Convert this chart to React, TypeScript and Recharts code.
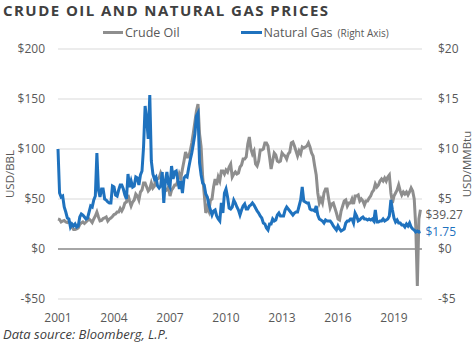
import React from "react";
import { LineChart, Line, XAxis, YAxis, CartesianGrid, ReferenceLine, LabelList } from "recharts";

document.body.style.margin = "0";

const START_YEAR = 2001;
const yearTicks = [2001, 2004, 2007, 2010, 2013, 2016, 2019];
const oilTicks = [-50, 0, 50, 100, 150, 200];
const gasTicks = [-5, 0, 5, 10, 15, 20];

// monthly WTI crude, USD/bbl
const crudeOil = [
  30, 29.5, 27, 28, 28.5, 27, 26.5, 27.5, 26, 22, 19.5, 19.5,
  20, 21, 24.5, 26, 27, 25.5, 27, 28.5, 30, 28.5, 26.5, 30,
  33, 37, 32, 28, 28.5, 30.5, 31, 32, 28, 30, 31, 32.5,
  34.5, 35, 37, 37, 40.5, 38, 41, 46, 47, 54, 48, 43,
  47, 49, 55, 53, 49, 57, 59, 66, 66, 62, 58, 60,
  66, 61, 63, 71, 70, 71, 76, 72, 63, 58, 59, 62,
  53, 59, 61, 64, 64, 68, 75, 71, 80, 88, 97, 92,
  92, 98, 106, 116, 127, 138, 145, 115, 102, 72, 55, 36,
  42, 38, 49, 50, 62, 70, 64, 72, 68, 78, 78, 75,
  79, 77, 82, 85, 72, 75, 77, 75, 76, 82, 84, 90,
  90, 92, 105, 112, 100, 95, 98, 85, 83, 88, 99, 99,
  100, 106, 106, 103, 92, 80, 88, 96, 94, 88, 87, 88,
  96, 94, 93, 90, 95, 97, 106, 107, 103, 98, 93, 98,
  95, 102, 101, 102, 103, 106, 102, 96, 93, 83, 74, 56,
  46, 50, 46, 56, 60, 60, 50, 41, 45, 46, 41, 36,
  30, 29, 38, 43, 48, 49, 43, 46, 46, 50, 45, 53,
  53, 54, 48, 50, 48, 44, 48, 48, 51, 53, 57, 59,
  65, 62, 64, 68, 70, 68, 71, 68, 72, 74, 56, 46,
  53, 56, 59, 64, 58, 54, 57, 55, 57, 54, 57, 61,
  58, 50, 22, -37, 30, 39.27,
];

// monthly Henry Hub natural gas, USD/MMBtu
const naturalGas = [
  10, 5.6, 5.2, 5.3, 4.2, 3.7, 3.1, 3.0, 2.2, 2.5, 2.3, 2.5,
  2.2, 2.3, 3.2, 3.5, 3.4, 3.2, 3.0, 3.1, 3.7, 4.3, 4.2, 4.9,
  5.3, 9.6, 5.9, 5.2, 6.0, 6.0, 5.0, 4.9, 4.7, 4.6, 4.6, 6.3,
  6.2, 5.4, 5.3, 5.9, 6.4, 6.4, 6.0, 5.4, 5.0, 7.5, 6.2, 6.8,
  6.2, 6.3, 7.2, 7.1, 6.4, 7.4, 7.8, 10.2, 14.3, 13.0, 11.0, 15.4,
  8.8, 7.5, 7.0, 7.2, 6.3, 6.1, 6.3, 7.7, 4.6, 6.8, 7.7, 6.5,
  6.2, 8.3, 7.0, 7.7, 7.8, 6.9, 6.0, 6.8, 5.6, 7.1, 7.3, 7.2,
  8.1, 8.9, 9.6, 10.5, 11.5, 13.3, 13.6, 8.6, 7.4, 6.6, 6.4, 5.5,
  5.2, 4.4, 3.9, 3.4, 3.8, 3.9, 3.3, 3.0, 2.8, 4.6, 3.6, 5.6,
  6.0, 5.2, 4.1, 4.0, 4.2, 4.9, 4.6, 4.2, 3.9, 3.4, 3.9, 4.3,
  4.5, 4.0, 4.0, 4.3, 4.4, 4.6, 4.4, 4.1, 3.8, 3.6, 3.3, 3.1,
  2.6, 2.5, 2.1, 1.9, 2.5, 2.5, 3.0, 2.8, 2.9, 3.4, 3.6, 3.3,
  3.3, 3.3, 3.9, 4.2, 4.0, 3.8, 3.6, 3.4, 3.6, 3.7, 3.7, 4.3,
  4.9, 6.2, 4.8, 4.7, 4.6, 4.6, 4.0, 3.9, 3.9, 3.8, 4.3, 3.4,
  3.0, 2.9, 2.8, 2.6, 2.9, 2.8, 2.8, 2.8, 2.6, 2.3, 2.1, 1.9,
  2.3, 2.0, 1.8, 1.9, 2.0, 2.6, 2.8, 2.8, 3.0, 3.0, 2.6, 3.6,
  3.3, 2.8, 2.9, 3.1, 3.2, 3.0, 3.0, 2.9, 3.0, 2.9, 3.0, 2.8,
  3.9, 2.7, 2.7, 2.8, 2.8, 3.0, 2.8, 2.9, 3.0, 3.3, 4.9, 3.9,
  3.1, 2.7, 2.9, 2.6, 2.6, 2.4, 2.4, 2.2, 2.5, 2.3, 2.6, 2.2,
  2.0, 1.9, 1.7, 1.8, 1.7, 1.75,
];

const data = crudeOil.map((oil, i) => ({
  date: START_YEAR + i / 12,
  oil,
  gas: naturalGas[i],
}));
const lastIdx = data.length - 1;

const FONT = "'Open Sans', sans-serif";
const TXT = "#595959";

const endLabel = (color: string, dy: number, fmt: (v: number) => string) => (props: any) => {
  const { x, y, value, index } = props;
  if (index !== lastIdx) return null;
  return (
    <text x={x + 5} y={y + dy} fill={color} fontSize={12} fontFamily={FONT}>
      {fmt(value)}
    </text>
  );
};

const money = (v: number) => (v < 0 ? `-$${-v}` : `$${v}`);

const axisTitle = (text: string, cx: number, cy: number) => (
  <div
    style={{
      position: "absolute",
      left: cx,
      top: cy,
      transform: "translate(-50%, -50%) rotate(-90deg)",
      fontSize: 11.5,
      color: TXT,
      whiteSpace: "nowrap",
      lineHeight: 1,
    }}
  >
    {text}
  </div>
);

export default function App() {
  return (
    <div style={{ position: "relative", width: 475, height: 350, background: "#fff", fontFamily: FONT }}>
      <div
        style={{
          position: "absolute",
          left: 3,
          top: 0,
          fontSize: 15,
          fontWeight: 700,
          letterSpacing: 1.45,
          color: "#404040",
          whiteSpace: "nowrap",
        }}
      >
        CRUDE OIL AND NATURAL GAS PRICES
      </div>
      <div style={{ position: "absolute", top: 24, left: 103, display: "flex", alignItems: "center", fontSize: 12.5, color: TXT }}>
        <span style={{ width: 20, height: 3, background: "#8E8E8E", display: "inline-block", marginRight: 2 }} />
        <span>Crude Oil</span>
        <span style={{ width: 21, height: 3, background: "#1F72BE", display: "inline-block", marginLeft: 61, marginRight: 2 }} />
        <span>Natural Gas</span>
        <span style={{ fontSize: 10, marginLeft: 5 }}>(Right Axis)</span>
      </div>
      {axisTitle("USD/BBL", 10, 174)}
      {axisTitle("USD/MMBtu", 467, 164)}
      <LineChart width={475} height={350} data={data} margin={{ top: 49, right: 0, bottom: 31, left: 0 }}>
        <CartesianGrid yAxisId="oil" vertical={false} stroke="#D9D9D9" />
        <XAxis
          dataKey="date"
          type="number"
          domain={[2001, 2020.5]}
          ticks={yearTicks}
          tickLine={false}
          axisLine={false}
          height={20}
          tickMargin={8}
          tick={{ fontSize: 12, fill: TXT, fontFamily: FONT }}
        />
        <YAxis
          yAxisId="oil"
          width={58}
          domain={[-50, 200]}
          ticks={oilTicks}
          tickFormatter={money}
          tickLine={false}
          axisLine={false}
          tickMargin={7}
          tick={{ fontSize: 12, fill: TXT, fontFamily: FONT }}
        />
        <YAxis
          yAxisId="gas"
          orientation="right"
          width={53}
          domain={[-5, 20]}
          ticks={gasTicks}
          tickFormatter={money}
          tickLine={false}
          axisLine={false}
          tickMargin={10}
          tick={{ fontSize: 12, fill: TXT, fontFamily: FONT, textAnchor: "start" }}
        />
        <ReferenceLine yAxisId="oil" y={0} stroke="#A6A6A6" strokeWidth={2} />
        <Line
          yAxisId="oil"
          dataKey="oil"
          stroke="#8E8E8E"
          strokeWidth={3}
          dot={false}
          isAnimationActive={false}
        >
          <LabelList dataKey="oil" content={endLabel(TXT, 9, (v) => `$${v.toFixed(2)}`)} />
        </Line>
        <Line
          yAxisId="gas"
          dataKey="gas"
          stroke="#1F72BE"
          strokeWidth={3}
          dot={false}
          isAnimationActive={false}
        >
          <LabelList dataKey="gas" content={endLabel("#1F72BE", 4, (v) => `$${v.toFixed(2)}`)} />
        </Line>
      </LineChart>
      <div style={{ position: "absolute", left: 3, top: 325, fontSize: 13, fontStyle: "italic", color: "#404040" }}>
        Data source: Bloomberg, L.P.
      </div>
    </div>
  );
}
